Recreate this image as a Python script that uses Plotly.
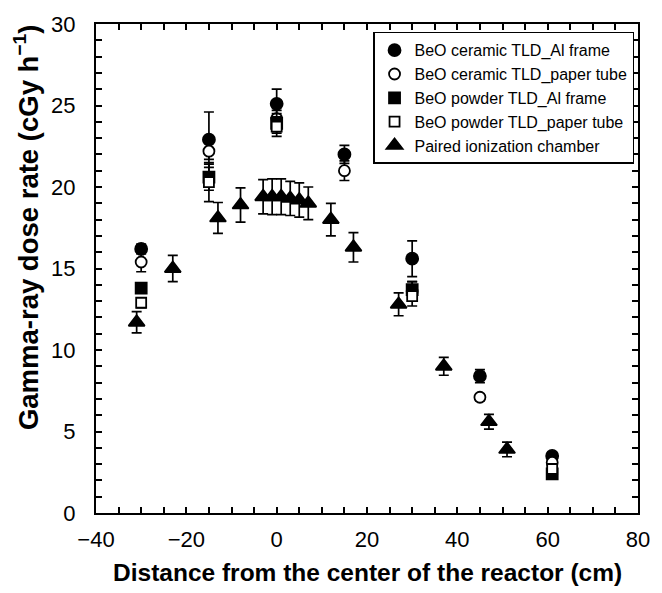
import plotly.graph_objects as go

# ---- data ----
x_cer_al = [-30, -15, 0, 15, 30, 45, 61]
y_cer_al = [16.2, 22.9, 25.1, 22.0, 15.6, 8.4, 3.5]
e_cer_al = [0.3, 1.7, 0.9, 0.55, 1.1, 0.4, 0.2]

x_cer_pp = [-30, -15, 0, 15, 30, 45, 61]
y_cer_pp = [15.4, 22.2, 24.2, 21.0, 13.6, 7.1, 3.1]
e_cer_pp = [0.6, 0.5, 0.5, 0.6, 0.6, 0.2, 0.2]

x_pow_al = [-30, -15, 0, 30, 61]
y_pow_al = [13.8, 20.6, 23.9, 13.7, 2.4]
e_pow_al = [0.3, 0.8, 0.6, 0.5, 0.2]

x_pow_pp = [-30, -15, 0, 30, 61]
y_pow_pp = [12.9, 20.3, 23.7, 13.3, 2.7]
e_pow_pp = [0.3, 1.2, 0.6, 0.6, 0.2]

x_ch = [-31, -23, -13, -8, -3, -1, 1, 3, 5, 7, 12, 17, 27, 37, 47, 51]
y_ch = [11.7, 15.0, 18.1, 18.9, 19.4, 19.4, 19.4, 19.3, 19.2, 19.0, 18.0, 16.3, 12.8, 9.0, 5.6, 3.9]
e_ch = [0.65, 0.8, 0.95, 1.05, 1.05, 1.1, 1.1, 1.05, 1.05, 1.0, 1.0, 0.9, 0.7, 0.55, 0.45, 0.45]

names = ["BeO ceramic TLD_Al frame", "BeO ceramic TLD_paper tube",
         "BeO powder TLD_Al frame", "BeO powder TLD_paper tube",
         "Paired ionization chamber"]

x_ticks = [-40, -20, 0, 20, 40, 60, 80]
y_ticks = [0, 5, 10, 15, 20, 25, 30]

x_title = "<b>Distance from the center of the reactor (cm)</b>"
y_title = "<b>Gamma-ray dose rate (cGy h<sup>−1</sup>)</b>"

FONT = "Liberation Sans, Arial, sans-serif"

def err(e):
    return dict(type="data", array=e, visible=True, color="black", thickness=1.7, width=5)

fig = go.Figure()
series = [
    (x_cer_al, y_cer_al, e_cer_al, "circle", "black", 12),
    (x_cer_pp, y_cer_pp, e_cer_pp, "circle", "white", 11),
    (x_pow_al, y_pow_al, e_pow_al, "square", "black", 11),
    (x_pow_pp, y_pow_pp, e_pow_pp, "square", "white", 10),
    (x_ch, y_ch, e_ch, "triangle-up", "black", 14),
]
for (xs, ys, es, sym, fill, sz), nm in zip(series, names):
    fig.add_trace(go.Scatter(
        x=xs, y=ys, mode="markers", name=nm,
        error_y=err(es),
        marker=dict(symbol=sym, color=fill, size=sz,
                    line=dict(color="black", width=1.8)),
    ))

axis_common = dict(
    showline=True, linecolor="black", linewidth=2, mirror="allticks",
    ticks="inside", ticklen=6, tickwidth=1.5, tickcolor="black",
    showgrid=False, zeroline=False,
    tickfont=dict(family=FONT, size=22, color="black"),
)

fig.update_layout(
    width=662, height=593,
    margin=dict(l=96, r=15, t=12, b=80),
    paper_bgcolor="white", plot_bgcolor="white",
    font=dict(family=FONT, color="black"),
    xaxis=dict(range=[-40, 80], tickvals=x_ticks,
               minor=dict(dtick=5, ticks="inside", ticklen=6, tickwidth=1.5, tickcolor="black"),
               ticklabelstandoff=6,
               **axis_common),
    yaxis=dict(range=[0, 30], tickvals=y_ticks,
               minor=dict(dtick=1, ticks="inside", ticklen=6, tickwidth=1.5, tickcolor="black"),
               ticklabelstandoff=14,
               **axis_common),
    legend=dict(x=0.9927, xanchor="right", y=0.984, yanchor="top",
                bgcolor="white", bordercolor="black", borderwidth=1.5,
                font=dict(family=FONT, size=16, color="black"),
                tracegroupgap=0, itemwidth=30),
    showlegend=True,
    annotations=[
        dict(text=x_title, xref="paper", yref="paper", x=0.5, y=-0.122,
             xanchor="center", yanchor="middle", showarrow=False,
             font=dict(family=FONT, size=24.5, color="black")),
        dict(text=y_title, xref="paper", yref="paper", x=-0.127, y=0.585,
             xanchor="center", yanchor="middle", showarrow=False, textangle=-90,
             font=dict(family=FONT, size=27.5, color="black")),
    ],
)

fig.write_html("out.html")
